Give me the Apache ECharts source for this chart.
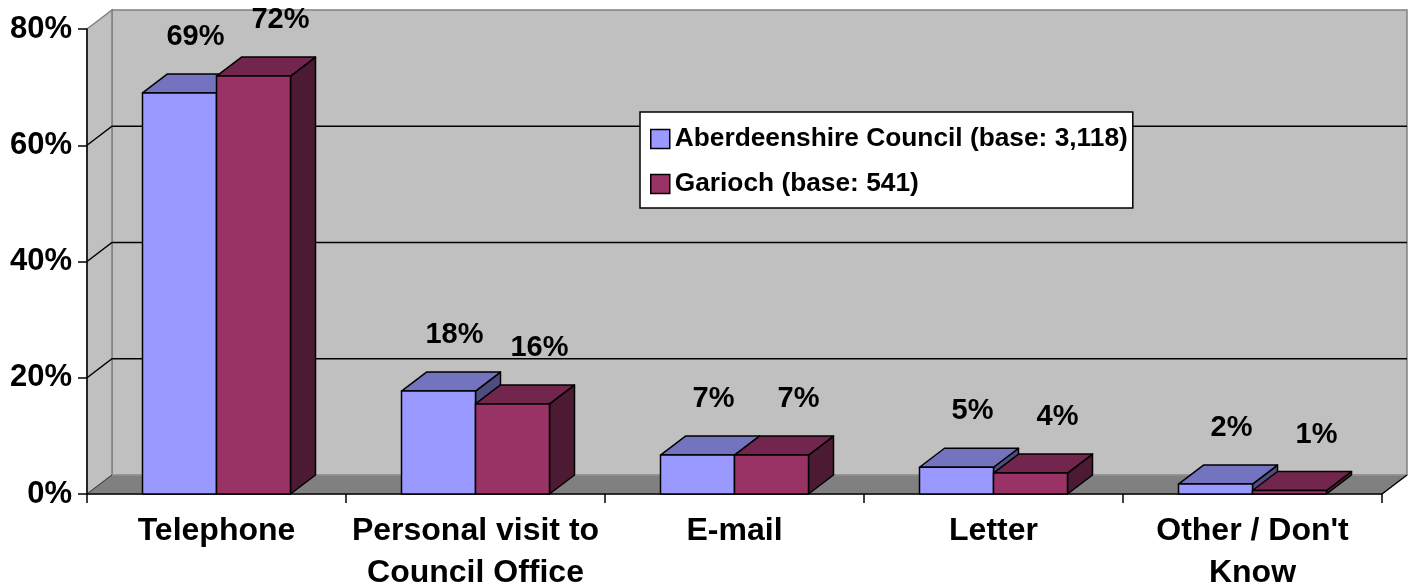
<!DOCTYPE html>
<html><head><meta charset="utf-8">
<script src="https://cdn.jsdelivr.net/npm/echarts@6/dist/echarts.min.js"></script>
<style>html,body{margin:0;padding:0;background:#fff}#c{width:1412px;height:586px}</style>
</head><body><div id="c"></div>
<script>
const categories = ['Telephone', 'Personal visit to\nCouncil Office', 'E-mail', 'Letter', "Other / Don't\nKnow"];
const seriesNames = ['Aberdeenshire Council (base: 3,118)', 'Garioch (base: 541)'];
const aberdeenshire = [69, 17.7, 6.7, 4.6, 1.7];
const garioch = [71.9, 15.5, 6.7, 3.6, 0.6];
const yTicks = [0, 20, 40, 60, 80];

const DX = 25, DY = 19;
const FONT = '"Liberation Sans", Arial, sans-serif';
const faces = [
  {front: '#9999FF', top: '#7373BF', side: '#4D4D80'},
  {front: '#993366', top: '#73264D', side: '#4D1A33'}
];
const labelShift = [16, 27];

function bgRender(params, api) {
  const cs = params.coordSys;
  const x0 = cs.x, x1 = cs.x + cs.width;
  const yb = api.coord([0, yTicks[0]])[1];
  const yt = api.coord([0, yTicks[yTicks.length - 1]])[1];
  const ch = [];
  ch.push({type: 'polygon', shape: {points: [[x0 + DX, yt - DY], [x1 + DX, yt - DY], [x1 + DX, yb - DY], [x0 + DX, yb - DY]]},
    style: {fill: '#C0C0C0', stroke: '#808080', lineWidth: 1.5}});
  ch.push({type: 'polygon', shape: {points: [[x0, yt], [x0 + DX, yt - DY], [x0 + DX, yb - DY], [x0, yb]]},
    style: {fill: '#C0C0C0', stroke: '#808080', lineWidth: 1.5}});
  ch.push({type: 'polygon', shape: {points: [[x0, yb], [x0 + DX, yb - DY], [x1 + DX, yb - DY], [x1, yb]]},
    style: {fill: '#808080', stroke: '#9A9A9A', lineWidth: 1}});
  yTicks.slice(1, -1).forEach(v => {
    const y = api.coord([0, v])[1];
    ch.push({type: 'polyline', shape: {points: [[x0, y], [x0 + DX, y - DY], [x1 + DX, y - DY]]},
      style: {stroke: '#000', lineWidth: 1.5, fill: null}});
  });
  ch.push({type: 'line', shape: {x1: x1, y1: yb, x2: x1 + DX, y2: yb - DY}, style: {stroke: '#000', lineWidth: 1.5}});
  ch.push({type: 'line', shape: {x1: x0, y1: yb, x2: x0 + DX, y2: yb - DY}, style: {stroke: '#333', lineWidth: 1}});
  return {type: 'group', children: ch};
}

function barRender(si) {
  return function (params, api) {
    const ci = api.value(0), v = api.value(1);
    const base = api.coord([ci, 0]);
    const topPt = api.coord([ci, v]);
    const band = api.size([1, 0])[0];
    const bw = band / 3.5;
    const xl = base[0] - bw + si * bw, xr = xl + bw;
    const yb = base[1], yt = topPt[1];
    const f = faces[si];
    const st = {stroke: '#000', lineWidth: 1.5, lineJoin: 'round'};
    return {type: 'group', children: [
      {type: 'polygon', shape: {points: [[xr, yb], [xr + DX, yb - DY], [xr + DX, yt - DY], [xr, yt]]}, style: Object.assign({}, st, {fill: f.side})},
      {type: 'polygon', shape: {points: [[xl, yt], [xl + DX, yt - DY], [xr + DX, yt - DY], [xr, yt]]}, style: Object.assign({}, st, {fill: f.top})},
      {type: 'rect', shape: {x: xl, y: yt, width: bw, height: yb - yt}, style: Object.assign({}, st, {fill: f.front})},
      {type: 'text', x: (xl + xr) / 2 + labelShift[si], y: yt - 56,
        style: {text: Math.round(v) + '%', font: 'bold 29px ' + FONT, fill: '#000', align: 'center', verticalAlign: 'middle'}}
    ]};
  };
}

const chart = echarts.init(document.getElementById('c'), null, {renderer: 'canvas'});
chart.setOption({
  animation: false,
  backgroundColor: '#fff',
  grid: {left: 87, right: 30, top: 29, bottom: 92, containLabel: false, outerBoundsMode: 'none'},
  legend: {
    orient: 'vertical', left: 640, top: 112, padding: [12, 5, 9, 10], itemGap: 15,
    itemWidth: 19, itemHeight: 19, icon: 'rect',
    backgroundColor: '#fff', borderColor: '#000', borderWidth: 1.5, borderRadius: 0,
    textStyle: {fontFamily: FONT, fontSize: 26.3, fontWeight: 'bold', color: '#000', lineHeight: 30},
    data: seriesNames.map((n, i) => ({name: n, itemStyle: {color: faces[i].front, borderColor: '#000', borderWidth: 1.5}}))
  },
  xAxis: {
    type: 'category', data: categories,
    axisLine: {show: true, lineStyle: {color: '#000', width: 1.5}},
    axisTick: {show: true, length: 9, lineStyle: {color: '#000', width: 1.5}},
    axisLabel: {interval: 0, margin: 16, fontFamily: FONT, fontSize: 32, fontWeight: 'bold', color: '#000', lineHeight: 42},
    splitLine: {show: false}
  },
  yAxis: {
    type: 'value', min: yTicks[0], max: yTicks[yTicks.length - 1], interval: 20,
    axisLine: {show: true, lineStyle: {color: '#000', width: 1.5}},
    axisTick: {show: true, length: 9, lineStyle: {color: '#000', width: 1.5}},
    axisLabel: {formatter: '{value}%', margin: 15, fontFamily: FONT, fontSize: 31, fontWeight: 'bold', color: '#000'},
    splitLine: {show: false}
  },
  series: [
    {type: 'custom', name: '__bg', z: -1, silent: true, renderItem: bgRender, data: [[0, 0]], encode: {x: 0, y: 1}},
    {type: 'custom', name: seriesNames[0], itemStyle: {color: faces[0].front}, renderItem: barRender(0),
      data: aberdeenshire.map((v, i) => [i, v]), encode: {x: 0, y: 1}},
    {type: 'custom', name: seriesNames[1], itemStyle: {color: faces[1].front}, renderItem: barRender(1),
      data: garioch.map((v, i) => [i, v]), encode: {x: 0, y: 1}}
  ]
});
</script></body></html>
